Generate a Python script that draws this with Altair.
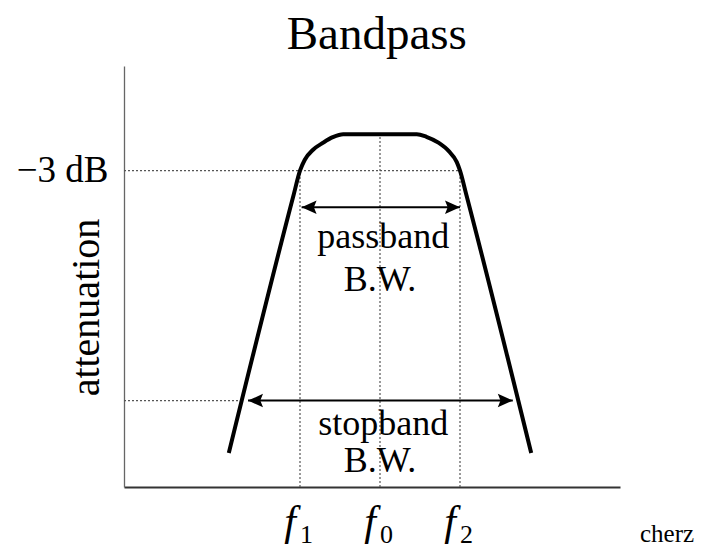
import altair as alt
import pandas as pd

# ---- data (arbitrary frequency units, attenuation in dB) ----
tick_freqs = [2.0, 3.0, 4.0]          # f1, f0, f2
tick_main = ["f", "f", "f"]
tick_subs = ["1", "0", "2"]

curve_f = [1.11, 1.92, 2.00, 2.06, 2.16, 2.29, 2.41, 2.54, 3.00, 3.46, 3.58, 3.73, 3.86, 3.96, 4.00, 4.08, 4.89]
curve_att = [-26.2, -5.0, -3.0, -2.1, -1.3, -0.7, -0.25, 0.0, 0.0, 0.0, -0.22, -0.7, -1.4, -2.3, -3.0, -5.0, -26.2]

level_3db = -3.0
level_peak = 0.0
level_stop = -21.9
stop_left = 1.275

pass_arrow_level = -6.0
pass_arrow = [2.02, 4.0]
stop_arrow = [1.35, 4.66]

ann_text = ["passband", "B.W.", "stopband", "B.W."]
ann_f = [3.04, 3.0, 3.04, 3.0]
ann_att = [-9.36, -12.9, -24.7, -27.8]

x_domain = [-0.2, 6.0]
y_domain = [-29.0, 5.6]

title_text = "Bandpass"
title_f = 2.96
title_att = 7.0

credit_text = "cherz"
credit_f = 6.25

SERIF = "Liberation Serif"

xs = alt.Scale(domain=x_domain, nice=False, zero=False)
ys = alt.Scale(domain=y_domain, nice=False, zero=False)

X_AXIS = alt.Axis(labels=False, ticks=False, grid=False, title=None,
                  domainColor="#333", domainWidth=1.8)
Y_AXIS = alt.Axis(
    values=[level_3db], labelExpr="'\u2212' + abs(datum.value) + ' dB'",
    labelFont=SERIF, labelFontSize=37, labelColor="black", labelPadding=16,
    ticks=False, grid=False, domainColor="#666", domainWidth=1.3,
    title="attenuation", titleFont=SERIF, titleFontSize=40,
    titleFontWeight="normal", titleColor="black", titleAngle=270,
    titleX=-26, titleY=241, titleAlign="center", titleBaseline="alphabetic")


def X(field="f"):
    return alt.X(f"{field}:Q", scale=xs, axis=X_AXIS, title=None)


def Y(field="att"):
    return alt.Y(f"{field}:Q", scale=ys, axis=Y_AXIS, title="attenuation")


curve_df = pd.DataFrame({"f": curve_f, "att": curve_att})

dotted_df = pd.DataFrame({
    "f":    [x_domain[0], tick_freqs[0], tick_freqs[2], tick_freqs[1], x_domain[0]],
    "f2":   [tick_freqs[2], tick_freqs[0], tick_freqs[2], tick_freqs[1], stop_left],
    "att":  [level_3db, y_domain[0], y_domain[0], y_domain[0], level_stop],
    "att2": [level_3db, level_3db, level_3db, level_peak, level_stop],
})

arrow_df = pd.DataFrame({
    "f": [pass_arrow[0], stop_arrow[0]],
    "f2": [pass_arrow[1], stop_arrow[1]],
    "att": [pass_arrow_level, level_stop],
})
left_heads = pd.DataFrame({"f": [pass_arrow[0], stop_arrow[0]], "att": [pass_arrow_level, level_stop]})
right_heads = pd.DataFrame({"f": [pass_arrow[1], stop_arrow[1]], "att": [pass_arrow_level, level_stop]})

ann_df = pd.DataFrame({"f": ann_f, "att": ann_att, "t": ann_text})
tick_df = pd.DataFrame({"f": tick_freqs, "att": [y_domain[0]] * 3, "main": tick_main, "sub": tick_subs})
title_df = pd.DataFrame({"f": [title_f], "att": [title_att], "t": [title_text]})
credit_df = pd.DataFrame({"f": [credit_f], "att": [y_domain[0]], "t": [credit_text]})

curve = alt.Chart(curve_df).mark_line(
    color="black", strokeWidth=4, interpolate="monotone", clip=False
).encode(x=X(), y=Y())

dotted = alt.Chart(dotted_df).mark_rule(
    color="#555", strokeWidth=1.2, strokeDash=[2, 2]
).encode(x=X(), x2="f2:Q", y=Y(), y2="att2:Q")

arrows = alt.Chart(arrow_df).mark_rule(color="black", strokeWidth=2).encode(
    x=X(), x2="f2:Q", y=Y()
)

lh = alt.Chart(left_heads).mark_point(
    shape="M0,0L1,-0.45L0.82,0L1,0.45Z", size=900, filled=True,
    color="black", opacity=1, strokeWidth=0
).encode(x=X(), y=Y())
rh = alt.Chart(right_heads).mark_point(
    shape="M0,0L-1,-0.45L-0.82,0L-1,0.45Z", size=900, filled=True,
    color="black", opacity=1, strokeWidth=0
).encode(x=X(), y=Y())

ann = alt.Chart(ann_df).mark_text(
    font=SERIF, fontSize=36, baseline="alphabetic", align="center", color="black"
).encode(x=X(), y=Y(), text="t:N")

tick_f = alt.Chart(tick_df).mark_text(
    font=SERIF, fontSize=42, fontStyle="italic", baseline="alphabetic",
    align="center", color="black", dx=-10, dy=48
).encode(x=X(), y=Y(), text="main:N")
tick_s = alt.Chart(tick_df).mark_text(
    font=SERIF, fontSize=26, baseline="alphabetic",
    align="left", color="black", dx=0, dy=56
).encode(x=X(), y=Y(), text="sub:N")

title = alt.Chart(title_df).mark_text(
    font=SERIF, fontSize=47, baseline="alphabetic", align="center", color="black"
).encode(x=X(), y=Y(), text="t:N")

credit = alt.Chart(credit_df).mark_text(
    font=SERIF, fontSize=25, baseline="alphabetic", align="left", color="black", dy=55
).encode(x=X(), y=Y(), text="t:N")

chart = alt.layer(
    dotted, curve, arrows, lh, rh, ann, tick_f, tick_s, title, credit
).properties(
    width=496, height=421,
    padding={"left": 116, "top": 58, "right": 79, "bottom": 63},
    autosize=alt.AutoSizeParams(type="none"),
    background="white",
).configure_view(stroke=None)

chart.save("out.html", embed_options={"renderer": "svg", "actions": False})
